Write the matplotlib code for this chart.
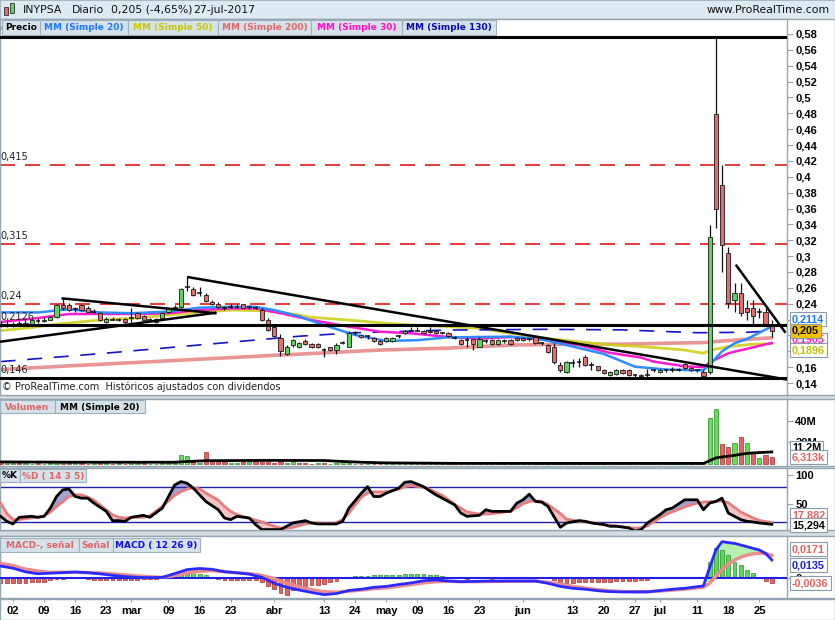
import matplotlib
matplotlib.use("Agg")
import matplotlib.pyplot as plt
from matplotlib.patches import Rectangle
from matplotlib import font_manager as fm
import numpy as np

W, H = 835, 620


def font_ok(name):
    try:
        fm.findfont(fm.FontProperties(family=name), fallback_to_default=False)
        return True
    except Exception:
        return False


NARROW = 'Liberation Sans Narrow' if font_ok('Liberation Sans Narrow') else 'Liberation Sans'
plt.rcParams['font.family'] = ['DejaVu Sans']

# ---------------------------------------------------------------- data
day_index = list(range(-2, 123))

opens = [.214, .215, .213, .215, .214, .213, .219, .218, .220,
         .223, .238, .238, .233, .238, .235, .230, .228, .217, .221,
         .220, .221, .222, .228, .224, .220, .217, .222, .229, .233,
         .236, .262, .259, .255, .251, .2425, .240, .235, .236, .236,
         .239, .235, .235, .232, .220, .211, .197, .177, .188, .185,
         .193, .189, .189, .181, .185, .181, .191, .186, .203, .201,
         .199, .197, .193, .193, .193, .199, .203, .206, .206, .206,
         .206, .206, .203, .203, .197, .194, .194, .195, .186, .193,
         .194, .189, .193, .194, .197, .197, .195, .198, .191, .188,
         .186, .163, .154, .165, .166, .173, .163, .161, .157, .150,
         .151, .157, .157, .150, .149, .150, .156, .154, .156, .156,
         .157, .164, .159, .156, .154, .154, .479, .390, .304, .245,
         .254, .234, .235, .228, .229, .213]
highs = [.218, .219, .217, .218, .219, .221, .222, .223, .225,
         .240, .247, .241, .236, .240, .237, .233, .230, .223, .223,
         .222, .222, .235, .230, .226, .222, .222, .229, .235, .238,
         .260, .274, .261, .261, .253, .245, .242, .237, .239, .239,
         .240, .238, .237, .234, .222, .213, .202, .188, .196, .192,
         .195, .191, .190, .184, .186, .190, .193, .205, .205, .202,
         .201, .198, .194, .198, .198, .201, .207, .210, .210, .207,
         .210, .207, .204, .204, .199, .195, .198, .196, .198, .195,
         .196, .195, .195, .195, .198, .198, .197, .199, .192, .189,
         .190, .167, .168, .170, .171, .175, .167, .162, .158, .155,
         .158, .158, .158, .152, .151, .158, .158, .158, .158, .160,
         .159, .165, .160, .158, .156, .339, .576, .415, .312, .266,
         .266, .245, .245, .235, .235, .219]
lows = [.211, .210, .211, .212, .213, .212, .216, .217, .219,
        .222, .232, .231, .230, .231, .229, .228, .218, .216, .219,
        .218, .216, .215, .221, .219, .218, .216, .221, .228, .232,
        .234, .256, .250, .250, .242, .238, .235, .232, .234, .234,
        .234, .233, .233, .218, .206, .198, .174, .175, .186, .184,
        .188, .184, .184, .173, .180, .177, .189, .185, .200, .197,
        .196, .192, .188, .192, .192, .197, .202, .205, .205, .202,
        .203, .202, .202, .198, .196, .188, .186, .182, .185, .191,
        .188, .188, .191, .188, .193, .193, .193, .189, .188, .178,
        .164, .154, .153, .160, .160, .162, .156, .155, .152, .149,
        .150, .152, .149, .148, .147, .148, .154, .153, .154, .154,
        .155, .158, .155, .154, .148, .152, .335, .280, .234, .230,
        .224, .219, .213, .222, .213, .198]
closes = [.213, .213, .215, .214, .216, .219, .218, .220, .223,
          .238, .235, .232, .233, .232, .230, .230, .219, .221, .220,
          .220, .217, .222, .222, .220, .220, .221, .228, .234, .236,
          .258, .261, .251, .254, .243, .2395, .236, .234, .236, .236,
          .235, .236, .235, .219, .207, .199, .180, .186, .194, .190,
          .189, .185, .185, .181, .181, .188, .191, .203, .203, .198,
          .199, .193, .189, .197, .197, .199, .206, .206, .206, .203,
          .204, .203, .203, .199, .197, .189, .194, .189, .196, .193,
          .189, .194, .193, .189, .194, .194, .195, .190, .190, .179,
          .167, .156, .167, .165, .166, .163, .163, .156, .153, .154,
          .157, .153, .150, .150, .149, .150, .156, .157, .156, .156,
          .157, .159, .156, .156, .149, .324, .359, .314, .241, .254,
          .228, .229, .224, .229, .215, .205]
volumes_m = [2.5, 2.2, 0.8, 0.5, 0.5, 0.4, 0.6, 0.3, 0.5,
             3.1, 3.1, 0.6, 0.8, 0.5, 0.3, 0.5, 1.2, 0.5, 0.3,
             0.5, 0.4, 3.1, 0.6, 0.5, 0.3, 0.4, 0.8, 0.6, 1.0,
             8.7, 7.8, 2.0, 1.2, 11.0, 3.0, 2.5, 1.9, 1.0, 1.0,
             1.9, 1.6, 2.5, 1.9, 1.6, 1.0, 1.6, 1.0, 1.5, 1.2,
             1.0, 0.4, 0.5, 0.6, 0.4, 0.9, 1.9, 0.5, 0.4, 0.3,
             0.3, 0.4, 0.3, 0.2, 0.3, 0.2, 0.3, 0.2, 0.3, 0.2,
             0.2, 0.3, 0.2, 0.2, 0.3, 0.2, 0.3, 0.6, 0.2, 0.2,
             0.3, 0.2, 0.2, 0.2, 0.6, 0.2, 0.2, 0.3, 0.2, 0.3,
             0.9, 0.3, 0.2, 0.6, 0.6, 0.3, 0.2, 1.2, 0.6, 0.2,
             0.2, 0.3, 0.2, 0.2, 0.3, 0.2, 0.2, 0.3, 0.2, 0.2,
             0.3, 0.2, 0.3, 0.2, 0.3, 43.0, 51.0, 18.6, 16.0, 19.5,
             25.0, 19.5, 10.0, 5.6, 8.7, 6.3]

tick_pos = [0, 5, 10, 15, 19, 25, 30, 35, 42, 50, 55, 60, 65, 70, 75, 82, 90, 95, 100, 104, 110, 115, 120]
tick_lab = ['02', '09', '16', '23', 'mar', '09', '16', '23', 'abr', '13', '24', 'may', '09', '16', '23',
            'jun', '13', '20', '27', 'jul', '11', '18', '25']

ma20_i = [-2, 4, 9, 14, 19, 25, 30, 35, 39, 42, 46, 50, 55, 60, 65, 70, 75, 80, 85, 90, 95, 100, 105,
          110, 111, 112, 114, 116, 118, 120, 122]
ma20_v = [.229, .229, .233, .229, .228, .230, .235, .236, .236, .232, .224, .213, .2005, .193, .194, .1977,
          .198, .1985, .195, .186, .1766, .1606, .157, .156, .156, .163, .180, .190, .1955, .2035, .2114]
ma30_i = [-2, 3, 9, 14, 20, 25, 30, 35, 39, 43, 48, 54, 59, 64, 70, 75, 80, 86, 91, 96, 101, 103, 108,
          111, 112, 115, 116, 119, 122]
ma30_v = [.217, .221, .227, .227, .227, .228, .232, .234, .234, .228, .2194, .211, .2047, .2027, .198, .196,
          .198, .194, .188, .178, .172, .167, .161, .160, .166, .1775, .1795, .185, .1905]
ma50_i = [-2, 3, 8, 14, 20, 25, 30, 35, 41, 45, 48, 54, 59, 64, 70, 75, 80, 86, 91, 96, 101, 108, 111,
          112, 115, 119, 122]
ma50_v = [.206, .210, .215, .2194, .222, .2258, .229, .232, .2308, .227, .2228, .2194, .216, .2131, .211,
          .209, .2027, .196, .192, .188, .186, .1816, .1775, .181, .186, .189, .1896]
ma200_i = [-2, 10, 20, 30, 43, 50, 59, 70, 75, 81, 90, 98, 104, 111, 114, 118, 122]
ma200_v = [.157, .162, .166, .170, .1753, .178, .1816, .184, .186, .188, .189, .189, .190, .191, .193,
           .195, .197]
ma130_i = [-2, 14, 30, 46, 55, 70, 86, 98, 110, 118, 122]
ma130_v = [.167, .177, .188, .199, .2034, .2068, .2077, .207, .2034, .204, .2055]

level_black = [0.576, 0.2126, 0.146]
level_black_lab = ['0,576', '0,2126', '0,146']
level_red = [0.415, 0.315, 0.24]
level_red_lab = ['0,415', '0,315', '0,24']

trend_x0 = [7.8, -2.09, 28, 116.2]
trend_y0 = [0.2468, 0.192, 0.2737, 0.2892]
trend_x1 = [32.7, 32.7, 124.44, 124.2]
trend_y1 = [0.2279, 0.2287, 0.1444, 0.2034]

volma_i = [-2, 10, 26, 28, 31, 40, 50, 52, 56, 60, 70, 85, 111, 112, 113, 114, 115, 116, 117, 118, 119,
           120, 121, 122]
volma_v = [1.9, 1.6, 1.6, 2.3, 3.0, 3.3, 3.2, 2.6, 1.6, 1.0, 0.6, 0.5, 0.5, 3.0, 5.6, 6.5, 7.3, 8.0, 9.0,
           9.8, 10.3, 10.6, 10.9, 11.2]

st_i = [-2, -1, 0, 1, 3, 4, 5, 6, 7, 8, 9, 10, 11, 12, 13, 15, 16, 17, 18, 19, 20, 21, 22, 24, 25, 26,
        27, 28, 29, 30, 31, 33, 34, 35, 36, 38, 39, 40, 42, 43, 44, 45, 47, 48, 49, 51, 52, 53, 54, 56,
        57, 58, 59, 60, 62, 63, 64, 66, 67, 68, 69, 71, 72, 73, 75, 76, 77, 78, 80, 81, 82, 83, 84, 85,
        86, 88, 89, 91, 92, 93, 95, 96, 97, 99, 100, 101, 102, 104, 105, 106, 108, 110, 111, 112, 113,
        114, 115, 117, 118, 119, 120, 122]
stoch_k = [29, 20.4, 15.9, 27.3, 29, 27.3, 29, 43, 63, 74.4, 76, 63, 60.2, 60.2, 51.7, 37.5, 21.6, 21.6,
           20.4, 27.3, 29, 30.7, 27.3, 43, 63, 82.9, 88.6, 85.8, 77.2, 65.9, 54.5, 40.3, 26.1, 23.3, 29,
           26.1, 14.8, 6.2, 6.2, 6.2, 11.9, 17.6, 21.6, 17.6, 15.9, 15.9, 15.9, 20.4, 43, 68.7, 80, 63, 63,
           68.7, 77.2, 87.5, 88.6, 80, 72.7, 65.9, 60.2, 48.8, 34.6, 29, 30.7, 40.3, 37.5, 37.5, 37.5,
           51.7, 57.4, 67, 54.5, 53.4, 46, 10.2, 17.6, 21.6, 20.4, 17.6, 14.8, 11.9, 11.9, 9.1, 3.4, 6.2,
           17.6, 31.8, 40.3, 43.2, 57.4, 57.4, 40.3, 51.7, 54.5, 60.2, 34.6, 23.3, 20.4, 19.3, 17.6, 15.3]
stoch_d = [51.7, 34, 23.3, 23.3, 26.5, 27.5, 30, 36, 46, 54, 63, 66, 66, 62, 57, 40, 31.5, 27.5, 26.1,
           26.8, 27.3, 27.3, 30, 46, 55.5, 65, 71.3, 76, 77.8, 76.1, 69, 56.7, 46, 37.5, 31.8, 25.2, 22.6,
           19.3, 11.9, 9, 8.4, 10, 15.9, 17.6, 17.6, 16.3, 18, 23.7, 34.6, 62, 68.7, 71, 71, 71.2, 75.7,
           80, 81.8, 79, 75.3, 70, 65, 49.6, 42.8, 36.5, 32.9, 32.9, 33.7, 34.7, 38, 43.8, 50.4, 54.2,
           55.7, 54.6, 49.3, 33.7, 24.1, 20.3, 19.6, 18.3, 14.8, 13.5, 12.5, 9.7, 8.5, 9.3, 12.6, 26.4,
           32.2, 36.6, 45.2, 51.8, 53.5, 54.1, 54.9, 55.3, 52.3, 36.3, 31.3, 26.1, 22, 17.9]

mc_i = [-2, 0, 2, 4, 6, 8, 10, 12, 14, 16, 18, 20, 22, 24, 26, 28, 30, 32, 34, 36, 38, 40, 42, 44, 46,
        48, 50, 52, 54, 56, 58, 60, 62, 64, 66, 68, 70, 72, 76, 80, 84, 86, 88, 90, 92, 94, 96, 98, 100,
        102, 104, 106, 108, 110, 111, 112, 113, 114, 115, 116, 117, 118, 119, 120, 121, 122]
macd_line = [.0091, .0075, .0048, .0034, .0038, .0042, .0047, .0042, .0033, .0022, .0013, .0007, .0005,
             .0007, .0035, .0065, .0073, .0067, .0049, .0041, .0031, .0008, -.0037, -.0067, -.0087,
             -.0105, -.0121, -.0113, -.0090, -.0081, -.0067, -.0060, -.0046, -.0034, -.0018, -.0012,
             -.0020, -.0025, -.0021, -.0020, -.0020, -.0037, -.0060, -.0074, -.0081, -.0092, -.0099,
             -.0101, -.0101, -.0101, -.0091, -.0081, -.0074, -.0062, -.0057, .0080, .0210, .0272,
             .0265, .0259, .0247, .0235, .0222, .0210, .0185, .0136]
signal_line = [.0111, .0095, .0068, .0055, .0044, .0046, .0044, .0042, .0040, .0033, .0026, .0017, .0011,
               .0008, .0020, .0040, .0052, .0057, .0049, .0041, .0035, .0022, -.0002, -.0035, -.0063,
               -.0084, -.0099, -.0103, -.0096, -.0087, -.0077, -.0071, -.0059, -.0047, -.0034, -.0025,
               -.0022, -.0025, -.0024, -.0022, -.0021, -.0029, -.0043, -.0060, -.0072, -.0084, -.0092,
               -.0098, -.0099, -.0099, -.0094, -.0088, -.0080, -.0071, -.0067, -.0037, .0015, .0065,
               .0105, .0135, .0157, .0172, .0182, .0186, .0183, .0171]
macd_hist = [-.0032, -.0033, -.0033, -.0032, -.0032, -.0030, -.0028, -.0024, -.0016,
             -.0008, -.0004, 0.0, .0002, 0.0,
             -.0008, -.0010, -.0012, -.0012, -.0014, -.0014, -.0012, -.0012, -.0010, -.0008, -.0006, -.0003,
             .0003, .0008,
             .0020, .0035, .0042, .0045, .0035, .0022, .0012,
             -.0008, -.0012, -.0012, -.0014, -.0014, -.0012, -.0010,
             -.0030, -.0055, -.0080, -.0110, -.0122, -.0085, -.0075, -.0060, -.0050, -.0050, -.0040,
             -.0030, -.0020,
             .0008, .0012, .0017, .0020, .0020, .0022, .0025, .0025, .0025, .0025, .0030, .0030, .0032,
             .0030, .0025, .0022, .0018, .0012, .0010,
             0.0, -.0002, 0.0, 0.0, 0.0, -.0005, 0.0, 0.0, .0002, .0008, .0010, .0008, .0003, 0.0, 0.0,
             -.0012, -.0030, -.0032, -.0032, -.0030, -.0028, -.0028, -.0028, -.0025, -.0025, -.0022,
             -.0022, -.0020, -.0018, -.0015, -.0012,
             .0005, .0010, .0010, .0012, .0012, .0012, .0012, .0012, .0012,
             .0123, .0222, .0210, .0173, .0123, .0099, .0062, .0037, .0007, -.0017, -.0036]

# ---------------------------------------------------------------- figure
fig = plt.figure(figsize=(W / 100, H / 100), dpi=100, facecolor='#D3DDE3')
XL = (-2.09, 124.44)
GREEN, RED = '#5CD35C', '#E46C6C'
BORDER = '#93A6B2'


def fx(px):
    return px / W


def fy(py):
    return 1 - py / H


def frect(x0, y0, x1, y1, fc, ec='none', lw=0.8, z=-2):
    fig.add_artist(Rectangle((fx(x0), fy(y1)), (x1 - x0) / W, (y1 - y0) / H,
                             transform=fig.transFigure, facecolor=fc, edgecolor=ec, lw=lw, zorder=z))


# header and panel backgrounds
frect(0, 0, 835, 18.5, '#DDEAF1', ec='#A9BAC4')
for top, bot in [(19, 395), (399, 466), (468, 530), (536, 598)]:
    frect(0, top, 835, bot, 'white', ec=BORDER, lw=1)
frect(0, 599, 835, 620, 'white', ec=BORDER, lw=1)

# header icon
frect(4, 7, 8, 15, RED, ec='#333', lw=0.6, z=5)
frect(10, 3, 14, 13, GREEN, ec='#333', lw=0.6, z=5)
fig.text(fx(23), fy(10), 'INYPSA', fontsize=7.8, va='center', color='#111')
fig.text(fx(72), fy(10), 'Diario', fontsize=7.8, va='center', color='#111')
fig.text(fx(111), fy(10), '0,205 (-4,65%)', fontsize=7.8, va='center', color='#111')
fig.text(fx(193), fy(10), '27-jul-2017', fontsize=7.8, va='center', color='#111')
fig.text(fx(830), fy(10), 'www.ProRealTime.com', fontsize=7.8, va='center', ha='right', color='#111')


def add_ax(top, bottom):
    ax = fig.add_axes([0, fy(bottom), 787 / W, (bottom - top) / H])
    ax.set_facecolor('white')
    for s in ax.spines.values():
        s.set_color(BORDER)
        s.set_linewidth(1)
    ax.set_xlim(*XL)
    ax.set_xticks([])
    ax.yaxis.tick_right()
    ax.tick_params(axis='y', direction='out', length=4, width=0.8, color=BORDER, labelsize=8, pad=2)
    return ax


def style_ticklabels(ax, axis='y'):
    labs = ax.get_yticklabels() if axis == 'y' else ax.get_xticklabels()
    for t in labs:
        t.set_fontfamily(NARROW)
        t.set_fontweight('bold')


ax_p = add_ax(19, 395)
ax_v = add_ax(399, 466)
ax_s = add_ax(468, 530)
ax_m = add_ax(536, 598)

# ---------------------------------------------------------------- price panel
x = np.array(day_index, dtype=float)
O, Hh, L, C = (np.array(a) for a in (opens, highs, lows, closes))
ax_p.set_ylim(0.1249, 0.5989)
yt = np.round(np.arange(0.14, 0.5801, 0.02), 2)
ax_p.set_yticks(yt)
ax_p.set_yticklabels([('%.2f' % v).rstrip('0').rstrip('.').replace('.', ',') for v in yt])
style_ticklabels(ax_p)

ax_p.plot(ma200_i, ma200_v, color='#E88A8A', lw=2.6, alpha=0.9, zorder=2, solid_capstyle='round')
ax_p.plot(ma50_i, ma50_v, color='#CFCF1A', lw=2.0, alpha=0.9, zorder=2)
ax_p.plot(ma130_i, ma130_v, color='#1414C8', lw=1.2, dashes=(9, 7), zorder=2)
ax_p.plot(ma30_i, ma30_v, color='#FF1ACD', lw=1.8, zorder=2)
ax_p.plot(ma20_i, ma20_v, color='#2D8CFF', lw=1.8, zorder=2)

for lv, lab in zip(level_red, level_red_lab):
    ax_p.axhline(lv, color='#E01818', lw=1.2, dashes=(9, 6), zorder=1)
    ax_p.text(-2.0, lv + 0.004, lab, fontsize=7, color='#222', va='bottom', ha='left', zorder=6)
for lv, lab in zip(level_black, level_black_lab):
    ax_p.axhline(lv, color='black', lw=2.2, zorder=5)
    ax_p.text(-2.0, lv + 0.004, lab, fontsize=7, color='#222', va='bottom', ha='left', zorder=6)

up = C >= O
ax_p.vlines(x, L, Hh, color='#111111', lw=0.9, zorder=3)
body_lo = np.minimum(O, C)
body_h = np.abs(C - O)
big = body_h >= 0.0012
ax_p.bar(x[big], body_h[big], bottom=body_lo[big], width=0.68,
         color=np.where(up[big], GREEN, RED), edgecolor='#1a1a1a', lw=0.6, zorder=4)
ax_p.hlines(C[~big], x[~big] - 0.38, x[~big] + 0.38, color='#111111', lw=1.1, zorder=4)

for a, b, c, d in zip(trend_x0, trend_y0, trend_x1, trend_y1):
    ax_p.plot([a, c], [b, d], color='black', lw=1.8, zorder=6, solid_capstyle='butt')

ax_p.text(-1.7, 0.1285, '\u00a9 ProRealTime.com  Hist\u00f3ricos ajustados con dividendos', fontsize=7,
          color='#222', va='bottom', ha='left', zorder=7)

# legend boxes (price)
def legend_row(y0, y1, items):
    for x0, x1, s, col in items:
        frect(x0, y0, x1, y1, '#D6E2E9', ec='#9DB0BC', lw=0.8, z=8)
        fig.text(fx((x0 + x1) / 2), fy((y0 + y1) / 2 + 0.5), s, fontsize=6.5, fontweight='bold',
                 color=col, ha='center', va='center', zorder=9)


legend_row(20, 35, [(2, 40, 'Precio', 'black'), (40, 128, 'MM (Simple 20)', '#1E78FF'),
                    (128, 218, 'MM (Simple 50)', '#C8C800'), (218, 311, 'MM (Simple 200)', '#E06868'),
                    (311, 402, 'MM (Simple 30)', '#FF10C8'), (402, 496, 'MM (Simple 130)', '#0A0AB4')])

# ---------------------------------------------------------------- volume panel
V = np.array(volumes_m)
vol_up = np.concatenate([[False], C[1:] >= C[:-1]])
ax_v.set_ylim(-1.9, 60.5)
ax_v.bar(x, V, width=0.68, color=np.where(vol_up, '#66DD55', '#E46464'),
         edgecolor=np.where(vol_up, '#2E8B2E', '#A03030'), lw=0.5, zorder=3)
ax_v.plot(volma_i, volma_v, color='black', lw=2, zorder=4)
ax_v.set_yticks([20, 40])
ax_v.set_yticklabels(['20M', '40M'])
style_ticklabels(ax_v)
legend_row(400, 413, [(0, 55, 'Volumen', '#E06666'), (55, 145, 'MM (Simple 20)', 'black')])

# ---------------------------------------------------------------- stochastic panel
si = np.array(st_i, dtype=float)
K = np.array(stoch_k)
D = np.array(stoch_d)
ax_s.set_ylim(5.5, 112)
ax_s.fill_between(si, K, D, where=K >= D, interpolate=True, color='#A3A3D3', lw=0, zorder=1)
ax_s.fill_between(si, K, D, where=K < D, interpolate=True, color='#F6C4C4', lw=0, zorder=1)
ax_s.axhline(80, color='#2020A8', lw=1, zorder=2)
ax_s.axhline(20, color='#2020A8', lw=1, zorder=2)
ax_s.plot(si, D, color='#E87C7C', lw=2, zorder=3)
ax_s.plot(si, K, color='black', lw=2, zorder=4)
ax_s.set_yticks([50, 100])
ax_s.set_yticklabels(['50', '100'])
style_ticklabels(ax_s)
legend_row(469, 482, [(0, 20, '%K', 'black'), (20, 86, '%D ( 14 3 5)', '#E06666')])

# ---------------------------------------------------------------- MACD panel
mi = np.array(mc_i, dtype=float)
Mv = np.array(macd_line)
Sv = np.array(signal_line)
Hv = np.array(macd_hist)
ax_m.set_ylim(-0.0146, 0.0314)
ax_m.fill_between(mi, Mv, Sv, where=Mv >= Sv, interpolate=True, color='#B6F0B0', lw=0, zorder=1)
ax_m.fill_between(mi, Mv, Sv, where=Mv < Sv, interpolate=True, color='#F6C4C4', lw=0, zorder=1)
ax_m.bar(x, Hv, width=0.62, color=np.where(Hv >= 0, '#5CD65C', '#E06666'),
         edgecolor=np.where(Hv >= 0, '#2E8B2E', '#A03030'), lw=0.5, zorder=2)
ax_m.axhline(0, color='#1F1FE6', lw=1.5, zorder=3)
ax_m.plot(mi, Sv, color='#EE8A8A', lw=2.4, zorder=4)
ax_m.plot(mi, Mv, color='#2B2BFF', lw=2.0, zorder=5)
ax_m.set_yticks([0])
ax_m.set_yticklabels(['0'])
style_ticklabels(ax_m)
ax_m.set_xticks(tick_pos)
ax_m.set_xticklabels(tick_lab)
ax_m.tick_params(axis='x', direction='out', length=3, width=0.8, color=BORDER, labelsize=8, pad=3)
style_ticklabels(ax_m, 'x')
legend_row(538, 552, [(0, 79, 'MACD-, se\u00f1al', '#E06666'), (79, 113, 'Se\u00f1al', '#E06666'),
                      (113, 200, 'MACD ( 12 26 9)', '#1010E0')])

# ---------------------------------------------------------------- value boxes on the right
def vbox(py, s, col, fc='white'):
    fig.text(fx(792), fy(py), s, fontsize=7.8, fontweight='bold', color=col, family=NARROW,
             ha='left', va='center', zorder=10,
             bbox=dict(boxstyle='square,pad=0.18', fc=fc, ec='#8A9AA6', lw=0.8))


vbox(340, '0,1905', '#FF20C0')
vbox(319, '0,2114', '#1E7BFF')
vbox(350, '0,1896', '#C0C000')
vbox(331, '0,205', 'black', fc='#F2C200')
vbox(448, '11,2M', 'black')
vbox(457, '6,313k', '#E06666')
vbox(515, '17,882', '#E06666')
vbox(525, '15,294', 'black')
vbox(549, '0,0171', '#E06666')
vbox(565, '0,0135', '#1E1EE0', fc='white')
vbox(583, '-0,0036', '#E06666')

fig.savefig('out.png', dpi=100, facecolor=fig.get_facecolor())
